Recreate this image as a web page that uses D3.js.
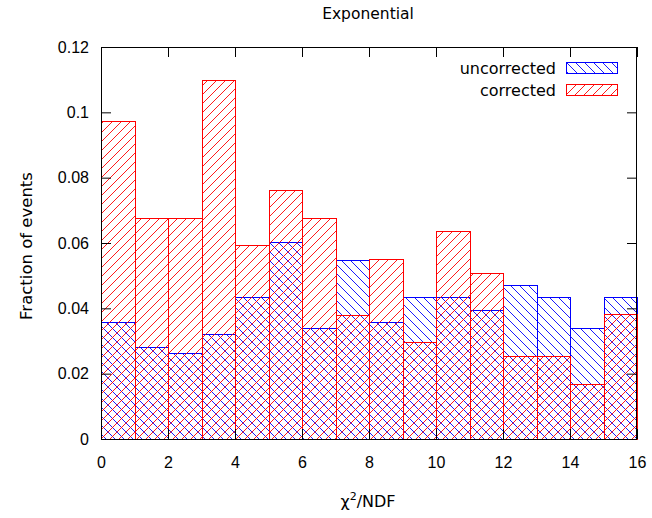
<!DOCTYPE html>
<html>
<head>
<meta charset="utf-8">
<script src="https://cdn.jsdelivr.net/npm/d3@7"></script>
<style>
  body { margin: 0; background: #fff; }
  svg { display: block; font-family: "DejaVu Sans", sans-serif; }
  .axis text { font-size: 16px; fill: #000; }
  .axis .domain { display: none; }
  .axis line { stroke: #000; }
</style>
</head>
<body>
<svg id="chart"></svg>
<script>
// bin lower edges (chi2/NDF), width 1
var bins = [0, 1, 2, 3, 4, 5, 6, 7, 8, 9, 10, 11, 12, 13, 14, 15];
var uncorrected = [0.0358, 0.0282, 0.0263, 0.0321, 0.0435, 0.0603, 0.0340, 0.0548,
                   0.0358, 0.0435, 0.0435, 0.0395, 0.0471, 0.0435, 0.0340, 0.0435];
var corrected = [0.0973, 0.0677, 0.0677, 0.1100, 0.0594, 0.0762, 0.0677, 0.0380,
                 0.0550, 0.0297, 0.0637, 0.0508, 0.0254, 0.0254, 0.0168, 0.0383];
var xTicks = [0, 2, 4, 6, 8, 10, 12, 14, 16];
var yTicks = [0, 0.02, 0.04, 0.06, 0.08, 0.1, 0.12];
var seriesNames = ["uncorrected", "corrected"];

var w = 652;
var h = 518;
var margin = { top: 47, bottom: 79, left: 101, right: 15 };

var svg = d3.select("#chart").attr("width", w).attr("height", h);

var xScale = d3.scaleLinear().domain([0, 16]).range([margin.left, w - margin.right]);
var yScale = d3.scaleLinear().domain([0, 0.12]).range([h - margin.bottom, margin.top]);

// hatch patterns
var defs = svg.append("defs");
var p = 9;
defs.append("pattern")
  .attr("id", "hatchBlue")
  .attr("patternUnits", "userSpaceOnUse")
  .attr("width", p).attr("height", p)
  .append("path")
  .attr("d", "M0,0L" + p + "," + p + "M-2," + (p - 2) + "L2," + (p + 2) + "M" + (p - 2) + ",-2L" + (p + 2) + ",2")
  .attr("stroke", "#0000ff").attr("stroke-width", 0.9);
defs.append("pattern")
  .attr("id", "hatchRed")
  .attr("patternUnits", "userSpaceOnUse")
  .attr("width", p).attr("height", p)
  .append("path")
  .attr("d", "M0," + p + "L" + p + ",0M-2,2L2,-2M" + (p - 2) + "," + (p + 2) + "L" + (p + 2) + "," + (p - 2))
  .attr("stroke", "#ff0000").attr("stroke-width", 0.9);

var series = [
  { name: seriesNames[0], values: uncorrected, fill: "url(#hatchBlue)", color: "#0000ff" },
  { name: seriesNames[1], values: corrected, fill: "url(#hatchRed)", color: "#ff0000" }
];

series.forEach(function(s) {
  svg.append("g")
    .selectAll("rect")
    .data(bins)
    .enter()
    .append("rect")
    .attr("x", function(d) { return Math.round(xScale(d)) + 0.5; })
    .attr("y", function(d, i) { return Math.round(yScale(s.values[i])) + 0.5; })
    .attr("width", function(d) { return Math.round(xScale(d + 1)) - Math.round(xScale(d)); })
    .attr("height", function(d, i) { return Math.round(yScale(0)) - Math.round(yScale(s.values[i])); })
    .attr("fill", s.fill)
    .attr("stroke", s.color)
    .attr("stroke-width", 1);
});

// axes, ticks pointing inwards and mirrored
svg.append("g")
  .attr("class", "axis")
  .attr("transform", "translate(" + margin.left + ",0)")
  .call(d3.axisLeft(yScale).tickValues(yTicks).tickSize(-10).tickPadding(12).tickFormat(d3.format("~g")));

svg.append("g")
  .attr("class", "axis")
  .attr("transform", "translate(0," + (h - margin.bottom) + ")")
  .call(d3.axisBottom(xScale).tickValues(xTicks).tickSize(-10).tickPadding(18));

svg.append("g")
  .attr("class", "axis")
  .attr("transform", "translate(" + (w - margin.right) + ",0)")
  .call(d3.axisRight(yScale).tickValues(yTicks).tickSize(-10).tickFormat(""));

svg.append("g")
  .attr("class", "axis")
  .attr("transform", "translate(0," + margin.top + ")")
  .call(d3.axisTop(xScale).tickValues(xTicks).tickSize(-10).tickFormat(""));

svg.append("rect")
  .attr("x", margin.left + 0.5)
  .attr("y", margin.top + 0.5)
  .attr("width", w - margin.left - margin.right - 1)
  .attr("height", h - margin.top - margin.bottom)
  .attr("fill", "none")
  .attr("stroke", "#000");

// legend
var legend = svg.append("g")
  .selectAll("g")
  .data(series)
  .enter()
  .append("g")
  .attr("transform", function(d, i) { return "translate(0," + (i * 22) + ")"; });

legend.append("text")
  .attr("x", 556)
  .attr("y", 74)
  .attr("text-anchor", "end")
  .style("font-size", "16px")
  .text(function(d) { return d.name; });

legend.append("rect")
  .attr("x", 566.5)
  .attr("y", 62.5)
  .attr("width", 51)
  .attr("height", 11)
  .attr("fill", function(d) { return d.fill; })
  .attr("stroke", function(d) { return d.color; });

// titles
svg.append("text")
  .attr("x", 368)
  .attr("y", 19)
  .attr("text-anchor", "middle")
  .style("font-size", "15.5px")
  .text("Exponential");

var xl = svg.append("text")
  .attr("x", 368)
  .attr("y", 507)
  .attr("text-anchor", "middle")
  .style("font-size", "16px");
xl.append("tspan").text("χ");
xl.append("tspan").attr("dy", -7).style("font-size", "11px").text("2");
xl.append("tspan").attr("dy", 7).text("/NDF");

svg.append("text")
  .attr("transform", "translate(32,246) rotate(-90)")
  .attr("text-anchor", "middle")
  .style("font-size", "16.5px")
  .text("Fraction of events");
</script>
</body>
</html>
